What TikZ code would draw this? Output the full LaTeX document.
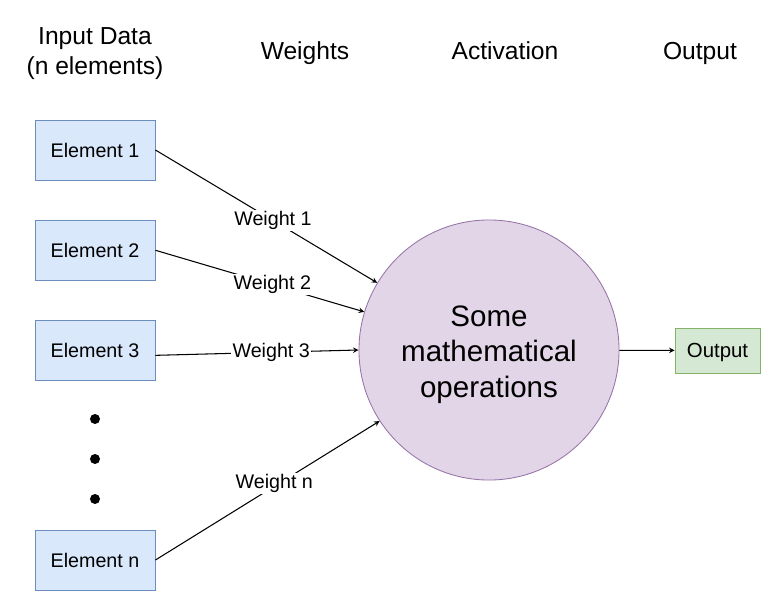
\documentclass[tikz,border=0pt]{standalone}
\usepackage{fontspec}
\setmainfont{Liberation Sans}
\usepackage{tikz}
\usetikzlibrary{positioning}
\usetikzlibrary{arrows}
\usepackage{xcolor}
\definecolor{elemfill}{HTML}{DAE8FC}
\definecolor{elemline}{HTML}{6C8EBF}
\definecolor{actfill}{HTML}{E1D5E7}
\definecolor{actline}{HTML}{9673A6}
\definecolor{outfill}{HTML}{D5E8D4}
\definecolor{outline}{HTML}{82B366}

\begin{document}
\begin{tikzpicture}[x=0.025cm, y=-0.025cm, >=stealth, line width=0.75pt,
  elem/.style = {draw=elemline, fill=elemfill, line width=0.6pt, minimum width=3cm, minimum height=1.5cm, font=\fontsize{14}{17}\selectfont},
  act/.style = {draw=actline, fill=actfill, line width=0.6pt, circle, minimum size=6.5cm},
  acttext/.style = {align=center, font=\fontsize{21}{25.2}\selectfont},
  outbox/.style = {draw=outline, fill=outfill, line width=0.6pt, minimum width=2.125cm, minimum height=1.125cm, text depth=0pt, font=\fontsize{14.5}{17}\selectfont},
  head/.style = {align=center, font=\fontsize{17.5}{21.3}\selectfont},
  wlabel/.style = {fill=white, inner sep=1pt, font=\fontsize{14}{17}\selectfont},
  dot/.style = {circle, fill=black, inner sep=0pt, minimum size=0.25cm},
  node distance=0.985cm]
\useasboundingbox (0,0) rectangle (782,611);
% headers
\node[head] (h1) at (95,54) {Input Data\\(n elements)};
\node[head, anchor=base] (h2) at (305,60) {Weights};
\node[head, anchor=base] (h3) at (505,60) {Activation};
\node[head, anchor=base] (h4) at (700,60) {Output};
% inputs
\node[elem] (e1) at (95,150) {Element 1};
\node[elem] (e2) [below=of e1] {Element 2};
\node[elem] (e3) [below=of e2] {Element 3};
\node[elem] (en) at (95,560) {Element n};
\node[dot] (d1) at (95,419) {};
\node[dot] (d2) at (95,459) {};
\node[dot] (d3) at (95,499) {};
% activation and output
\node[act] (act) at (489,350) {};
\node[acttext] (actt) at (489,354.5) {Some\\mathematical\\operations};
\node[outbox] (out) at (717.5,350.5) {Output};
\path (e1.east) edge [->] node [wlabel, pos=0.53] {Weight 1} (act.149);
\path (e2.east) edge [->] node [wlabel, pos=0.56] {Weight 2} (act.163);
\path ([yshift=-0.12cm]e3.east) edge [->] node [wlabel, pos=0.57] {Weight 3} (act.west);
\path (en.east) edge [->] node [wlabel, pos=0.53, yshift=2pt] {Weight n} (act.213);
\path (act) edge [->] (out);
\end{tikzpicture}
\end{document}
